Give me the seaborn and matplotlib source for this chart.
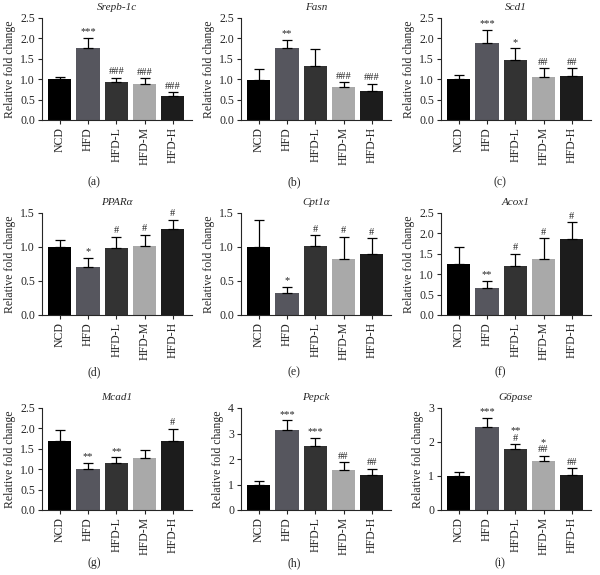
import numpy as np
import pandas as pd
import matplotlib
matplotlib.use("Agg")
import matplotlib.pyplot as plt
import seaborn as sns

sns.set_style("ticks")
plt.rcParams['font.family'] = ['Liberation Serif', 'DejaVu Serif']
plt.rcParams['mathtext.fontset'] = 'stix'

groups = ["NCD", "HFD", "HFD-L", "HFD-M", "HFD-H"]
colors = ["#000000", "#56565e", "#333333", "#a9a9a9", "#1c1c1c"]

titles = ["Srepb-1c", "Fasn", "Scd1", "PPARα", "Cpt1α", "Acox1", "Mcad1", "Pepck", "G6pase"]
panel_labels = ["(a)", "(b)", "(c)", "(d)", "(e)", "(f)", "(g)", "(h)", "(i)"]

srepb_mean = [1.00, 1.77, 0.92, 0.89, 0.59]
srepb_top = [1.06, 2.01, 1.04, 1.02, 0.68]
fasn_mean = [0.98, 1.77, 1.33, 0.80, 0.72]
fasn_top = [1.26, 1.97, 1.73, 0.92, 0.89]
scd1_mean = [1.00, 1.89, 1.47, 1.05, 1.07]
scd1_top = [1.10, 2.21, 1.76, 1.27, 1.27]
ppara_mean = [1.00, 0.70, 0.98, 1.02, 1.27]
ppara_top = [1.10, 0.84, 1.15, 1.18, 1.40]
cpt1a_mean = [1.00, 0.32, 1.02, 0.83, 0.89]
cpt1a_top = [1.40, 0.41, 1.17, 1.15, 1.13]
acox1_mean = [1.24, 0.66, 1.19, 1.38, 1.86]
acox1_top = [1.66, 0.84, 1.50, 1.88, 2.27]
mcad1_mean = [1.69, 1.00, 1.15, 1.27, 1.69]
mcad1_top = [1.97, 1.16, 1.29, 1.47, 1.99]
pepck_mean = [1.00, 3.12, 2.50, 1.55, 1.37]
pepck_top = [1.12, 3.52, 2.82, 1.87, 1.62]
g6pase_mean = [1.00, 2.45, 1.80, 1.45, 1.04]
g6pase_top = [1.13, 2.72, 1.94, 1.60, 1.23]

srepb_sig = ["", "***", "###", "###", "###"]
fasn_sig = ["", "**", "", "###", "###"]
scd1_sig = ["", "***", "*", "##", "##"]
ppara_sig = ["", "*", "#", "#", "#"]
cpt1a_sig = ["", "*", "#", "#", "#"]
acox1_sig = ["", "**", "#", "#", "#"]
mcad1_sig = ["", "**", "**", "", "#"]
pepck_sig = ["", "***", "***", "##", "##"]
g6pase_sig = ["", "***", "**\n#", "*\n##", "##"]

ylims = [2.5, 2.5, 2.5, 1.5, 1.5, 2.5, 2.5, 4, 3]
ysteps = [0.5, 0.5, 0.5, 0.5, 0.5, 0.5, 0.5, 1, 1]
yfmt = ["%.1f"] * 7 + ["%d", "%d"]

means = [srepb_mean, fasn_mean, scd1_mean, ppara_mean, cpt1a_mean, acox1_mean, mcad1_mean, pepck_mean, g6pase_mean]
tops = [srepb_top, fasn_top, scd1_top, ppara_top, cpt1a_top, acox1_top, mcad1_top, pepck_top, g6pase_top]
sigs = [srepb_sig, fasn_sig, scd1_sig, ppara_sig, cpt1a_sig, acox1_sig, mcad1_sig, pepck_sig, g6pase_sig]

W, H = 600, 575
fig = plt.figure(figsize=(W / 100, H / 100), dpi=100)

col_left = [42, 241, 441]
ax_w = 150
row_top = [18, 213, 408]
ax_h = 102
label_x = [94, 294, 500]
label_y = [182, 372, 563]

for i in range(9):
    r, c = divmod(i, 3)
    left = col_left[c] / W
    bottom = 1 - (row_top[r] + ax_h) / H
    ax = fig.add_axes([left, bottom, ax_w / W, ax_h / H])
    df = pd.DataFrame({"group": groups, "value": means[i]})
    sns.barplot(data=df, x="group", y="value", hue="group", palette=colors,
                order=groups, hue_order=groups, legend=False, errorbar=None,
                width=0.82, ax=ax, saturation=1, linewidth=0)
    err_up = np.array(tops[i]) - np.array(means[i])
    ax.errorbar(np.arange(5), means[i], yerr=[np.zeros(5), err_up], fmt="none",
                ecolor="black", elinewidth=0.9, capsize=3.5, capthick=0.9)
    for j, s in enumerate(sigs[i]):
        if s:
            ax.text(j, tops[i][j] + ylims[i] * 0.015, s, ha="center", va="bottom",
                    fontsize=7.5, linespacing=0.75)
    ax.set_ylim(0, ylims[i])
    ax.set_yticks(np.arange(0, ylims[i] + 1e-6, ysteps[i]))
    ax.set_yticklabels([yfmt[i] % v for v in np.arange(0, ylims[i] + 1e-6, ysteps[i])], fontsize=8.5)
    ax.set_xlim(-0.63, 4.68)
    ax.set_xlabel("")
    ax.set_ylabel("Relative fold change", fontsize=8.5, labelpad=3)
    ax.tick_params(axis="x", labelrotation=90, labelsize=8.5, length=3, width=0.8, pad=2)
    ax.tick_params(axis="y", length=3, width=0.8, pad=2)
    for sp in ["top", "right"]:
        ax.spines[sp].set_visible(False)
    for sp in ["left", "bottom"]:
        ax.spines[sp].set_linewidth(0.8)
    ax.set_title(titles[i], fontsize=8, style="italic", pad=6)
    fig.text(label_x[c] / W, 1 - label_y[r] / H, panel_labels[i], ha="center", va="center", fontsize=8.5)

fig.savefig("out.png", dpi=100)
